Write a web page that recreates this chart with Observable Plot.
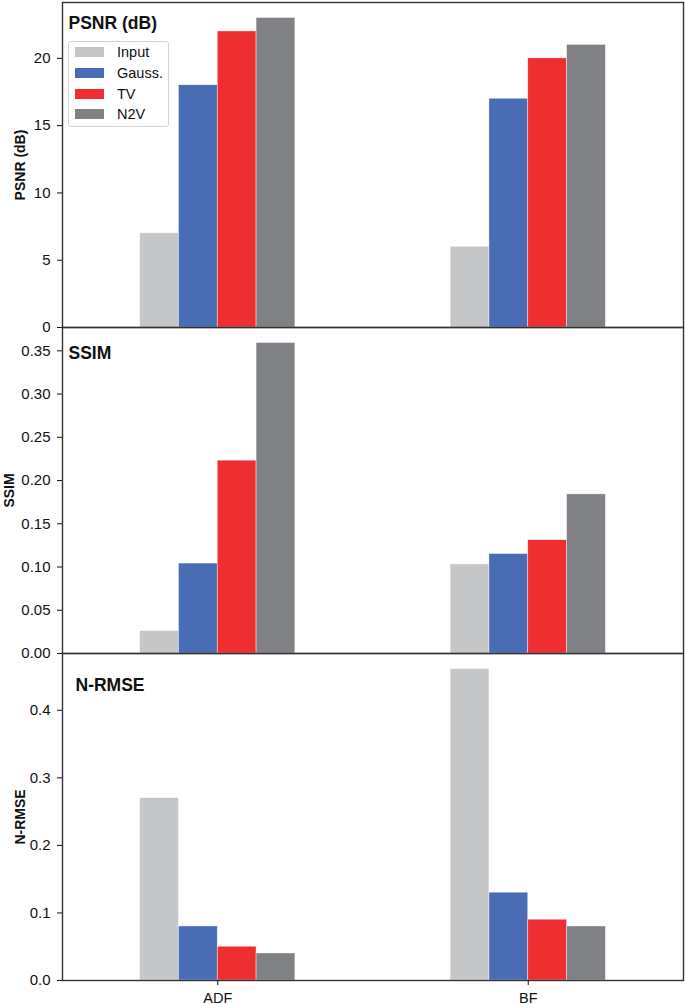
<!DOCTYPE html>
<html>
<head>
<meta charset="utf-8">
<script src="https://cdn.jsdelivr.net/npm/d3@7"></script>
<script src="https://cdn.jsdelivr.net/npm/@observablehq/plot@0.6"></script>
<style>
  html, body { margin: 0; padding: 0; background: white; }
  #wrap { position: relative; width: 685px; height: 1004px; font-family: "Liberation Sans", Arial, sans-serif; }
  #wrap svg { position: absolute; left: 0; }
  .legend { position: absolute; left: 68px; top: 41px; width: 101px; height: 86px; border: 1px solid #d4d4d4; border-radius: 3px; background: rgba(255,255,255,0.85); box-sizing: border-box; font-size: 14.5px; color: #111; }
  .legend .row { position: absolute; left: 6px; height: 14px; display: flex; align-items: center; }
  .legend .sw { width: 29px; height: 10px; margin-right: 13px; }
</style>
</head>
<body>
<div id="wrap"></div>
<script>
const categories = ["ADF", "BF"];
const methods = ["Input", "Gauss.", "TV", "N2V"];
const colors = ["#c5c6c8", "#4a6cb4", "#ee2e31", "#808184"];

const psnr  = [[7, 18, 22, 23], [6, 17, 20, 21]];
const ssim  = [[0.026, 0.104, 0.223, 0.359], [0.103, 0.115, 0.131, 0.184]];
const nrmse = [[0.27, 0.08, 0.05, 0.04], [0.461, 0.13, 0.09, 0.08]];

const psnrTicks  = [0, 5, 10, 15, 20];
const ssimTicks  = [0, 0.05, 0.10, 0.15, 0.20, 0.25, 0.30, 0.35];
const nrmseTicks = [0, 0.1, 0.2, 0.3, 0.4];

const BAR = 0.125;
function rows(values) {
  const out = [];
  categories.forEach((c, ci) => methods.forEach((m, mi) => {
    const x1 = ci + (mi - 2) * BAR;
    out.push({category: c, method: m, value: values[ci][mi], x1, x2: x1 + BAR});
  }));
  return out;
}

const wrap = document.getElementById("wrap");
const M = 12;

function panel({values, label, title, ticks, fmt, top, bottom, tdx, tdy, ldx, xAxis}) {
  const data = rows(values);
  const ymax = d3.max(values.flat()) * 1.05;
  const mb = xAxis ? 26 : M;
  const marks = [
    Plot.rectY(data, {x1: "x1", x2: "x2", y1: 0, y2: "value", fill: "method", stroke: "white", strokeWidth: 0.6, strokeOpacity: 0.7}),
    Plot.axisY({ticks, tickFormat: fmt, tickSize: 5, tickPadding: 7, label: null, fontSize: 15}),
    Plot.text([label], {frameAnchor: "left", textAnchor: "middle", lineAnchor: "middle", rotate: -90, dx: ldx, fontWeight: "bold", fontSize: 14, text: d => d}),
    Plot.text([title], {frameAnchor: "top-left", lineAnchor: "bottom", dx: tdx, dy: tdy, textAnchor: "start", fontWeight: "bold", fontSize: 17.5, text: d => d}),
    Plot.frame({stroke: "#333", strokeWidth: 1.4})
  ];
  if (xAxis) {
    marks.push(Plot.axisX({ticks: [0, 1], tickFormat: i => categories[i], tickSize: 5, tickPadding: 7, label: null, fontSize: 14.5}));
  }
  const svg = Plot.plot({
    width: 685,
    height: (bottom - top) + M + mb,
    marginLeft: 62,
    marginRight: 2,
    marginTop: M,
    marginBottom: mb,
    style: {background: "transparent", overflow: "visible", fontFamily: "'Liberation Sans', Arial, sans-serif", fontSize: "15px", color: "#111"},
    x: {type: "linear", domain: [-0.5, 1.5], axis: null},
    y: {domain: [0, ymax], axis: null},
    color: {domain: methods, range: colors},
    marks
  });
  svg.style.top = (top - M) + "px";
  wrap.appendChild(svg);
}

panel({values: psnr, label: "PSNR (dB)", title: "PSNR (dB)", ticks: psnrTicks, fmt: d3.format("d"), top: 2, bottom: 327, tdx: 6, tdy: 26, ldx: -42});
panel({values: ssim, label: "SSIM", title: "SSIM", ticks: ssimTicks, fmt: d3.format(".2f"), top: 327, bottom: 653, tdx: 6, tdy: 31, ldx: -53});
panel({values: nrmse, label: "N-RMSE", title: "N-RMSE", ticks: nrmseTicks, fmt: d3.format(".1f"), top: 653, bottom: 980, tdx: 13, tdy: 37, ldx: -42, xAxis: true});

// legend
const lg = document.createElement("div");
lg.className = "legend";
methods.forEach((m, i) => {
  const r = document.createElement("div");
  r.className = "row";
  r.style.top = (3 + i * 20.8) + "px";
  const sw = document.createElement("span");
  sw.className = "sw";
  sw.style.background = colors[i];
  const t = document.createElement("span");
  t.textContent = m;
  r.appendChild(sw); r.appendChild(t);
  lg.appendChild(r);
});
wrap.appendChild(lg);
</script>
</body>
</html>
